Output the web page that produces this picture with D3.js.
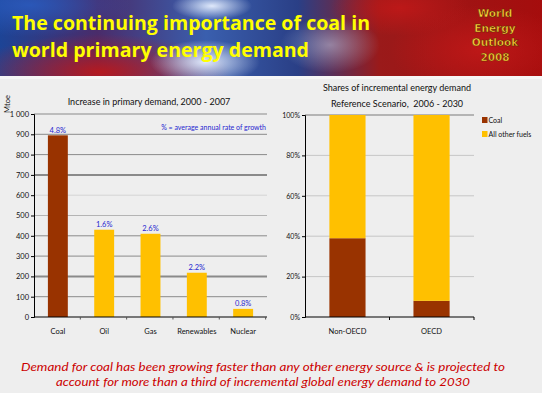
<!DOCTYPE html>
<html>
<head>
<meta charset="utf-8">
<script src="https://cdn.jsdelivr.net/npm/d3@7"></script>
<style>
  html, body { margin: 0; padding: 0; background: #eeeeee; }
  svg { display: block; font-family: Lato, "Open Sans", sans-serif; }
</style>
</head>
<body>
<div id="container"></div>
<script>
// Left panel: increase in primary demand 2000-2007 (Mtoe)
const fuels = ["Coal", "Oil", "Gas", "Renewables", "Nuclear"];
const demandIncrease = [895, 430, 410, 218, 40];
const growthRates = ["4.8%", "1.6%", "2.6%", "2.2%", "0.8%"];
const demandTicks = [0, 100, 200, 300, 400, 500, 600, 700, 800, 900, 1000];

// Right panel: shares of incremental energy demand 2006-2030 (%)
const regions = ["Non-OECD", "OECD"];
const coalShare = [39, 8];
const otherShare = [61, 92];
const shareTicks = [0, 20, 40, 60, 80, 100];
const shareSeries = ["Coal", "All other fuels"];

const W = 542, H = 393;
const COAL = "#993300", OTHER = "#ffc000", LABEL_BLUE = "#1f1fd0";

const svg = d3.select("#container").append("svg")
  .attr("width", W).attr("height", H);

// ---- banner ----
const defs = svg.append("defs");
defs.append("clipPath").attr("id", "bannerClip")
  .append("rect").attr("width", W).attr("height", 76);

const base = defs.append("linearGradient").attr("id", "bannerBase")
  .attr("x1", 0).attr("x2", 1).attr("y1", 0).attr("y2", 0);
[["0%", "#1d4496"], ["18%", "#4a2c6a"], ["38%", "#3a5fae"], ["55%", "#2a3f86"], ["70%", "#9a1a1a"], ["100%", "#a50d0d"]]
  .forEach(([o, c]) => base.append("stop").attr("offset", o).attr("stop-color", c));

function radial(id, color, op) {
  const g = defs.append("radialGradient").attr("id", id);
  g.append("stop").attr("offset", "0%").attr("stop-color", color).attr("stop-opacity", op);
  g.append("stop").attr("offset", "100%").attr("stop-color", color).attr("stop-opacity", 0);
}
radial("glowWhite", "#e8f0ff", 0.95);
radial("glowRed", "#c01818", 0.9);
radial("glowBlue", "#2a5cc0", 0.85);

const banner = svg.append("g").attr("clip-path", "url(#bannerClip)");
banner.append("rect").attr("width", W).attr("height", 76).attr("fill", "url(#bannerBase)");
banner.append("ellipse").attr("cx", 100).attr("cy", 72).attr("rx", 130).attr("ry", 38).attr("fill", "url(#glowRed)");
banner.append("ellipse").attr("cx", 30).attr("cy", 5).attr("rx", 100).attr("ry", 32).attr("fill", "url(#glowBlue)");
banner.append("ellipse").attr("cx", 205).attr("cy", 62).attr("rx", 55).attr("ry", 22).attr("fill", "url(#glowWhite)");
banner.append("ellipse").attr("cx", 212).attr("cy", 6).attr("rx", 40).attr("ry", 14).attr("fill", "url(#glowWhite)");
banner.append("ellipse").attr("cx", 330).attr("cy", 45).attr("rx", 50).attr("ry", 28).attr("fill", "url(#glowWhite)").attr("opacity", 0.45);
banner.append("ellipse").attr("cx", 400).attr("cy", 8).attr("rx", 70).attr("ry", 28).attr("fill", "url(#glowRed)");
banner.append("ellipse").attr("cx", 480).attr("cy", 50).attr("rx", 90).attr("ry", 45).attr("fill", "url(#glowRed)");
svg.append("rect").attr("y", 76).attr("width", W).attr("height", 3).attr("fill", "#f6f6f6");

banner.selectAll("text.title")
  .data(["The continuing importance of coal in", "world primary energy demand"])
  .join("text")
  .attr("x", 12).attr("y", (d, i) => 30 + i * 27)
  .attr("fill", "#ffff00").attr("font-weight", "bold").attr("font-size", 20)
  .attr("font-family", "'Open Sans', 'DejaVu Sans', sans-serif")
  .attr("textLength", (d, i) => i === 0 ? 358 : 297)
  .attr("lengthAdjust", "spacingAndGlyphs")
  .text(d => d);

banner.selectAll("text.weo")
  .data(["World", "Energy", "Outlook", "2008"])
  .join("text")
  .attr("x", 495).attr("y", (d, i) => 17 + i * 14.5)
  .attr("text-anchor", "middle")
  .attr("fill", "#ffd23c").attr("stroke", "#5a2a00").attr("stroke-width", 0.5)
  .attr("font-weight", "bold").attr("font-size", 10.5)
  .attr("font-family", "'DejaVu Sans', sans-serif")
  .text(d => d);

// ---- left chart ----
const x1 = d3.scaleBand().domain(fuels).range([34, 267]).paddingInner(0.57).paddingOuter(0.3);
const y1 = d3.scaleLinear().domain([0, 1000]).range([317, 114]);
const fmt = d3.formatLocale({ decimal: ".", thousands: " ", grouping: [3], currency: ["", ""] }).format(",");

const left = svg.append("g");
left.append("text").attr("x", 149).attr("y", 105).attr("text-anchor", "middle")
  .attr("font-size", 9).attr("fill", "#111").text("Increase in primary demand, 2000 - 2007");

left.selectAll("line.grid")
  .data(demandTicks.filter(d => d > 0))
  .join("line")
  .attr("x1", 34).attr("x2", 267)
  .attr("y1", d => y1(d)).attr("y2", d => y1(d))
  .attr("stroke", d => d === 600 ? "#d4d4d4" : d === 500 ? "#b4b4b4" : "#8a8a8a")
  .attr("stroke-width", d => (d === 700 || d === 200) ? 2 : 1);

left.append("g").attr("transform", "translate(34,0)")
  .call(d3.axisLeft(y1).tickValues(demandTicks).tickFormat(fmt).tickSize(3).tickPadding(2))
  .call(g => g.selectAll("text").attr("font-size", 7.5).attr("fill", "#111").attr("font-family", "Lato, sans-serif"))
  .call(g => g.select(".domain").attr("stroke", "#000"));

left.append("text")
  .attr("transform", "translate(10,104) rotate(-90)")
  .attr("text-anchor", "middle").attr("font-size", 7.5).attr("fill", "#111").text("Mtoe");

left.selectAll("rect.bar")
  .data(fuels)
  .join("rect")
  .attr("x", d => x1(d)).attr("width", x1.bandwidth())
  .attr("y", (d, i) => y1(demandIncrease[i]))
  .attr("height", (d, i) => y1(0) - y1(demandIncrease[i]))
  .attr("fill", (d, i) => i === 0 ? COAL : OTHER);

left.selectAll("text.rate")
  .data(fuels)
  .join("text")
  .attr("x", d => x1(d) + x1.bandwidth() / 2)
  .attr("y", (d, i) => y1(demandIncrease[i]) - 2.5)
  .attr("text-anchor", "middle").attr("font-size", 7.5).attr("fill", LABEL_BLUE)
  .text((d, i) => growthRates[i]);

left.append("text").attr("x", 266).attr("y", 130).attr("text-anchor", "end")
  .attr("font-size", 7).attr("fill", LABEL_BLUE).text("% = average annual rate of growth");

// bottom axis with ticks between categories
left.append("line").attr("x1", 34).attr("x2", 267).attr("y1", 317).attr("y2", 317).attr("stroke", "#000");
const step1 = x1.step();
left.selectAll("line.sep")
  .data(fuels)
  .join("line")
  .attr("x1", (d, i) => 34 + step1 * (i + 1))
  .attr("x2", (d, i) => 34 + step1 * (i + 1))
  .attr("y1", 317).attr("y2", 319.5)
  .attr("stroke", "#555");
left.selectAll("text.cat")
  .data(fuels)
  .join("text")
  .attr("x", d => x1(d) + x1.bandwidth() / 2).attr("y", 334)
  .attr("text-anchor", "middle").attr("font-size", 7.5).attr("fill", "#111")
  .text(d => d);

// ---- right chart ----
const x2 = d3.scaleBand().domain(regions).range([305, 474]).paddingInner(0.57).paddingOuter(0.29);
const y2 = d3.scaleLinear().domain([0, 100]).range([317, 115]);

const right = svg.append("g");
right.selectAll("text.rtitle")
  .data(["Shares of incremental energy demand", "Reference Scenario,  2006 - 2030"])
  .join("text")
  .attr("x", 397).attr("y", (d, i) => 91 + i * 16)
  .attr("text-anchor", "middle").attr("font-size", 9).attr("fill", "#111")
  .attr("xml:space", "preserve")
  .text(d => d);

right.selectAll("line.grid")
  .data(shareTicks.filter(d => d > 0))
  .join("line")
  .attr("x1", 305).attr("x2", 474)
  .attr("y1", d => y2(d)).attr("y2", d => y2(d))
  .attr("stroke", d => d === 100 ? "#7a7a7a" : "#c6c6c6")
  .attr("stroke-width", 1);

const stackRows = regions.map((r, i) => ({ region: r, "Coal": coalShare[i], "All other fuels": otherShare[i] }));
const stacked = d3.stack().keys(shareSeries)(stackRows);
const color2 = d3.scaleOrdinal().domain(shareSeries).range([COAL, OTHER]);

right.selectAll("g.layer")
  .data(stacked)
  .join("g")
  .attr("fill", d => color2(d.key))
  .selectAll("rect")
  .data(d => d)
  .join("rect")
  .attr("x", d => x2(d.data.region)).attr("width", x2.bandwidth())
  .attr("y", d => y2(d[1])).attr("height", d => y2(d[0]) - y2(d[1]));

right.append("g").attr("transform", "translate(305,0)")
  .call(d3.axisLeft(y2).tickValues(shareTicks).tickFormat(d => d + "%").tickSize(3).tickPadding(2))
  .call(g => g.selectAll("text").attr("font-size", 7).attr("fill", "#111").attr("font-family", "Lato, sans-serif"))
  .call(g => g.select(".domain").attr("stroke", "#000"));

right.append("line").attr("x1", 305).attr("x2", 474).attr("y1", 317).attr("y2", 317).attr("stroke", "#000");
right.selectAll("line.sep")
  .data(regions)
  .join("line")
  .attr("x1", (d, i) => 305 + (474 - 305) / 2 * (i + 1))
  .attr("x2", (d, i) => 305 + (474 - 305) / 2 * (i + 1))
  .attr("y1", 317).attr("y2", 320)
  .attr("stroke", "#000");

right.selectAll("text.cat")
  .data(regions)
  .join("text")
  .attr("x", d => x2(d) + x2.bandwidth() / 2).attr("y", 334)
  .attr("text-anchor", "middle").attr("font-size", 7.5).attr("fill", "#111")
  .text(d => d);

const legend = right.selectAll("g.legend")
  .data(shareSeries)
  .join("g")
  .attr("transform", (d, i) => `translate(482,${117 + i * 14})`);
legend.append("rect").attr("width", 5.5).attr("height", 6).attr("fill", d => color2(d));
legend.append("text").attr("x", 6.5).attr("y", 5.5).attr("font-size", 7).attr("fill", "#111").text(d => d);

// ---- footer ----
svg.selectAll("text.foot")
  .data(["Demand for coal has been growing faster than any other energy source & is projected to",
         "account for more than a third of incremental global energy demand to 2030"])
  .join("text")
  .attr("x", 263).attr("y", (d, i) => 371 + i * 15)
  .attr("text-anchor", "middle").attr("font-style", "italic").attr("font-size", 11)
  .attr("fill", "#cc0000")
  .attr("textLength", (d, i) => i === 0 ? 484 : 414)
  .attr("lengthAdjust", "spacingAndGlyphs")
  .text(d => d);
</script>
</body>
</html>
